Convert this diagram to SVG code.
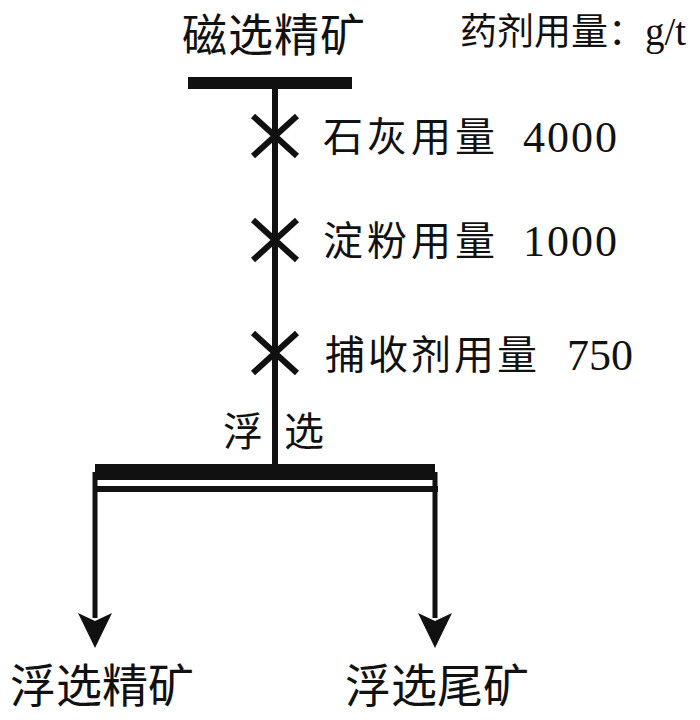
<svg xmlns="http://www.w3.org/2000/svg" width="700" height="720" viewBox="0 0 700 720">
<style>
.cj{font-family:"Noto Sans CJK SC",sans-serif;fill:#111;}
.n{font-family:"Liberation Serif",serif;fill:#111;}
.ln{stroke:#111;fill:none;}
.x{stroke:#111;stroke-width:6;fill:none;}
.ah{fill:#111;}
</style>
<rect width="700" height="720" fill="#fff"/>
<g id="feed">
<text class="cj" x="182" y="52" font-size="45" letter-spacing="1">磁选精矿</text>
</g>
<g id="unit">
<text class="cj" x="460" y="45" font-size="37">药剂用量：<tspan class="n" font-size="39">g/t</tspan></text>
</g>
<g id="connectors">
<rect x="188" y="77" width="164" height="12" fill="#111"/>
<line class="ln" x1="275" y1="86" x2="275" y2="466" stroke-width="6"/>
<rect x="95" y="464" width="340" height="16" fill="#111"/>
<rect x="93" y="486" width="345" height="6" fill="#111"/>
<line class="ln" x1="95" y1="472" x2="95" y2="618" stroke-width="5"/>
<line class="ln" x1="435" y1="472" x2="435" y2="618" stroke-width="5"/>
<polygon class="ah" points="78,613 95,621 112,613 95,648"/>
<polygon class="ah" points="418,613 435,621 452,613 435,648"/>
</g>
<g id="reagent1">
<path class="x" d="M253,116 L297,156 M297,116 L253,156"/>
<text class="cj" x="323" y="151" font-size="40" letter-spacing="4">石灰用量</text>
<text class="n" x="523" y="152" font-size="44" letter-spacing="2">4000</text>
</g>
<g id="reagent2">
<path class="x" d="M253,220 L297,260 M297,220 L253,260"/>
<text class="cj" x="323" y="255" font-size="40" letter-spacing="4">淀粉用量</text>
<text class="n" x="523" y="256" font-size="44" letter-spacing="2">1000</text>
</g>
<g id="reagent3">
<path class="x" d="M253,333 L297,373 M297,333 L253,373"/>
<text class="cj" x="325" y="369" font-size="40" letter-spacing="3">捕收剂用量</text>
<text class="n" x="567" y="370" font-size="44">750</text>
</g>
<g id="flotation">
<text class="cj" x="223" y="446" font-size="40">浮</text>
<text class="cj" x="284" y="446" font-size="40">选</text>
</g>
<g id="concentrate">
<text class="cj" x="10" y="702" font-size="46">浮选精矿</text>
</g>
<g id="tailings">
<text class="cj" x="345" y="702" font-size="46">浮选尾矿</text>
</g>
</svg>
